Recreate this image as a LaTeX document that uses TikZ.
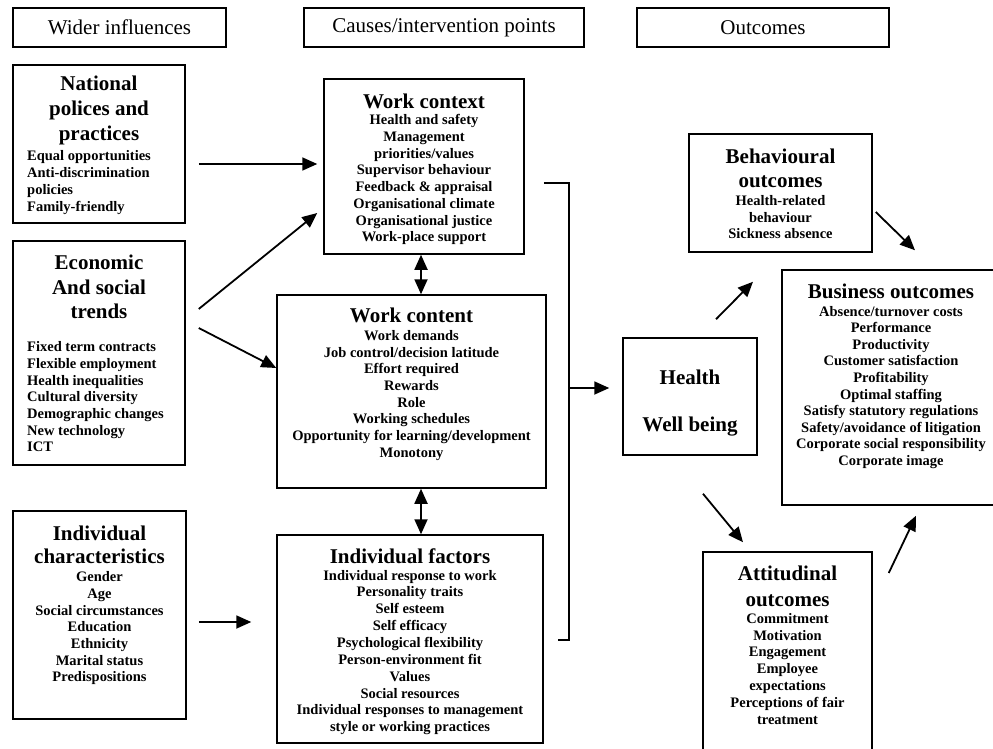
\documentclass[tikz,border=0pt]{standalone}
\usepackage{fontspec}
\setmainfont{Liberation Serif}
\usetikzlibrary{arrows.meta}
\begin{document}
\begin{tikzpicture}[x=1pt,y=-1pt,
 box/.style={draw, line width=1.5pt, rectangle, inner sep=0pt},
 hdr/.style={font=\fontsize{21}{24}\selectfont, align=center},
 ttl/.style={font=\bfseries\fontsize{21}{#1}\selectfont, align=center, inner sep=0pt},
 ttl/.default=25,
 itm/.style={font=\bfseries\fontsize{14.5}{#1}\selectfont, align=center, inner sep=0pt},
 itm/.default=16.7,
 arr/.style={line width=1.8pt, -{Triangle[length=15pt,width=13pt]}},
 darr/.style={line width=1.8pt, {Triangle[length=15pt,width=13pt]}-{Triangle[length=15pt,width=13pt]}},
 conn/.style={line width=1.5pt}]
\useasboundingbox (0,0) rectangle (993,749);
\fill[white] (0,0) rectangle (993,749);

% headers
\node[box, hdr, minimum width=213pt, minimum height=39pt] (hw) at (119.5,27.5) {Wider influences};
\node[box, hdr, minimum width=280pt, minimum height=39pt] (hc) at (444,27.5) {Causes/intervention points};
\node[box, hdr, minimum width=252pt, minimum height=39pt] (ho) at (763,27.5) {Outcomes};

% boxes
\node[box, minimum width=172pt, minimum height=158pt] (nat) at (99,144) {};
\node[box, minimum width=172pt, minimum height=224pt] (eco) at (99,353) {};
\node[box, minimum width=173pt, minimum height=208pt] (ich) at (99.5,615) {};
\node[box, minimum width=200pt, minimum height=175pt] (wc) at (424,166.5) {};
\node[box, minimum width=269pt, minimum height=193pt] (wco) at (411.5,391.5) {};
\node[box, minimum width=266pt, minimum height=208pt] (ifac) at (410,639) {};
\node[box, minimum width=134pt, minimum height=117pt] (hwb) at (690,396.5) {};
\node[box, minimum width=183pt, minimum height=118pt] (beh) at (780.5,193) {};
\node[box, minimum width=216pt, minimum height=235pt] (bus) at (890,387.5) {};
\node[box, minimum width=169pt, minimum height=228pt] (att) at (787.5,666) {};

% texts
\node[ttl] (natT) at (99,110) {National\\polices and\\practices};
\node[itm=17.2, align=left, anchor=west] (natI) at (27,182.5) {Equal opportunities\\Anti-discrimination\\policies\\Family-friendly};

\node[ttl=24.5] (ecoT) at (99,287) {Economic\\And social\\trends};
\node[itm, align=left, anchor=west] (ecoI) at (27,396.8) {Fixed term contracts\\Flexible employment\\Health inequalities\\Cultural diversity\\Demographic changes\\New technology\\ICT};

\node[ttl=23.4] (ichT) at (99.5,545) {Individual\\characteristics};
\node[itm] (ichI) at (99.5,628.3) {Gender\\Age\\Social circumstances\\Education\\Ethnicity\\Marital status\\Predispositions};

\node[ttl] (wcT) at (424,101) {Work context};
\node[itm] (wcI) at (424,179.7) {Health and safety\\Management\\priorities/values\\Supervisor behaviour\\Feedback \& appraisal\\Organisational climate\\Organisational justice\\Work-place support};

\node[ttl] (wcoT) at (411.5,315) {Work content};
\node[itm] (wcoI) at (411.5,395.3) {Work demands\\Job control/decision latitude\\Effort required\\Rewards\\Role\\Working schedules\\Opportunity for learning/development\\Monotony};

\node[ttl] (ifacT) at (410,556.7) {Individual factors};
\node[itm=16.85] (ifacI) at (410,652.5) {Individual response to work\\Personality traits\\Self esteem\\Self efficacy\\Psychological flexibility\\Person-environment fit\\Values\\Social resources\\Individual responses to management\\style or working practices};

\node[ttl] (hwbA) at (690,377) {Health};
\node[ttl] (hwbB) at (690,427) {Well being};

\node[ttl=24] (behT) at (780.5,168) {Behavioural\\outcomes};
\node[itm] (behI) at (780.5,217.3) {Health-related\\behaviour\\Sickness absence};

\node[ttl] (busT) at (891,291.7) {Business outcomes};
\node[itm=16.6] (busI) at (891,387.4) {Absence/turnover costs\\Performance\\Productivity\\Customer satisfaction\\Profitability\\Optimal staffing\\Satisfy statutory regulations\\Safety/avoidance of litigation\\Corporate social responsibility\\Corporate image};

\node[ttl=26] (attT) at (787.5,586.3) {Attitudinal\\outcomes};
\node[itm=16.8] (attI) at (787.5,668.8) {Commitment\\Motivation\\Engagement\\Employee\\expectations\\Perceptions of fair\\treatment};

% connectors
\draw[arr] ([shift={(13,20)}]nat.east) -- ([shift={(-6,-2.5)}]wc.west);
\draw[arr] ([shift={(13,-44)}]eco.east) -- ([shift={(-6,46.5)}]wc.west);
\draw[arr] ([shift={(13,-25)}]eco.east) -- ([shift={(0,-23.5)}]wco.west);
\draw[arr] ([shift={(12,7)}]ich.east) -- ([shift={(-25,-17)}]ifac.west);
\draw[darr] ([xshift=-3pt]wc.south) -- ([xshift=9.5pt]wco.north);
\draw[darr] ([xshift=9.5pt]wco.south) -- ([xshift=11pt]ifac.north);

\coordinate (brT) at (569,183);
\coordinate (brM) at (569,388);
\coordinate (brB) at (569,640);
\draw[conn] ([shift={(19,16.5)}]wc.east) -- (brT) -- (brB) -- ([shift={(14,1)}]ifac.east);
\draw[arr] (brM) -- ([shift={(-13,-8.5)}]hwb.west);

\draw[arr] ([shift={(26,-18)}]hwb.north) -- ([shift={(-27.5,29)}]beh.south);
\draw[arr] ([shift={(3,19)}]beh.east) -- ([shift={(25,-19)}]bus.north);
\draw[arr] ([shift={(13,38)}]hwb.south) -- ([shift={(-44.5,-9)}]att.north);
\draw[arr] ([shift={(16,-93)}]att.east) -- ([shift={(26,10)}]bus.south);
\end{tikzpicture}
\end{document}
